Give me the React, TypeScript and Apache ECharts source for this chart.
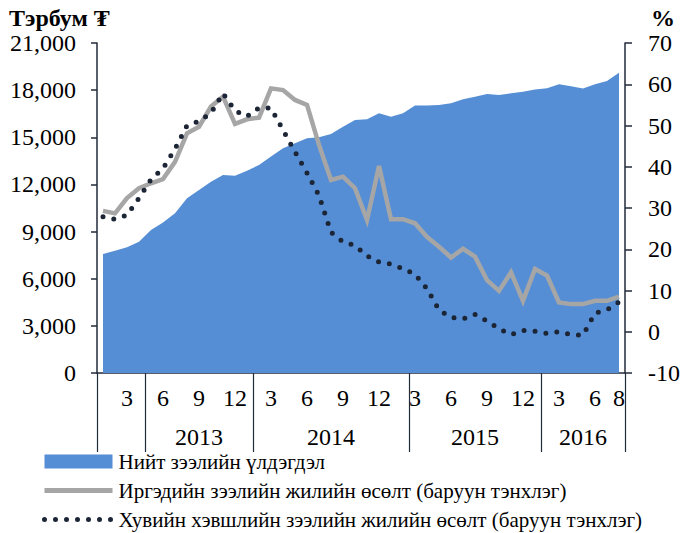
import React, { useEffect, useRef } from 'react';
import * as echarts from 'echarts';

// Months Jan 2013 – Aug 2016
const months = [
  1, 2, 3, 4, 5, 6, 7, 8, 9, 10, 11, 12,
  1, 2, 3, 4, 5, 6, 7, 8, 9, 10, 11, 12,
  1, 2, 3, 4, 5, 6, 7, 8, 9, 10, 11, 12,
  1, 2, 3, 4, 5, 6, 7, 8,
];
// Category boundaries where the reference draws its group separators
const separators = [0, 4, 13, 26, 37];
const yearLabels = ['2013', '2014', '2015', '2016'];
const yearSpans = [
  [4, 13],
  [13, 26],
  [26, 37],
  [37, 44],
];

// Нийт зээлийн үлдэгдэл (тэрбум ₮)
const totalLoans = [
  7570, 7780, 8000, 8360, 9100, 9570, 10160, 11120, 11650, 12170,
  12600, 12550, 12870, 13240, 13770, 14300, 14620, 14940, 15000, 15210,
  15670, 16100, 16150, 16530, 16310, 16530, 17030, 17030, 17050, 17160,
  17420, 17580, 17750, 17690, 17800, 17900, 18040, 18120, 18370, 18240,
  18100, 18380, 18580, 19100,
];
// Иргэдийн зээлийн жилийн өсөлт (%)
const householdGrowth = [
  29.3, 28.7, 32.4, 34.8, 36.0, 37.0, 41.2, 48.1, 49.7, 54.6,
  57.0, 50.4, 51.5, 51.9, 59.0, 58.6, 56.2, 55.0, 45.3, 36.8,
  37.6, 34.8, 27.1, 40.2, 27.3, 27.3, 26.3, 23.0, 20.6, 18.0,
  20.1, 18.2, 12.5, 9.9, 14.4, 7.5, 15.2, 13.6, 7.1, 6.7,
  6.7, 7.5, 7.5, 8.5,
];
// Хувийн хэвшлийн зээлийн жилийн өсөлт (%)
const privateGrowth = [
  27.9, 27.3, 28.3, 32.4, 36.9, 39.6, 44.3, 50.0, 51.0, 53.0,
  57.8, 53.6, 52.2, 54.3, 54.2, 48.9, 43.6, 38.5, 33.0, 24.1,
  21.8, 20.9, 18.4, 16.9, 16.4, 15.3, 13.9, 10.4, 5.3, 3.5,
  3.1, 4.2, 2.6, 0.7, -0.7, 0.3, 0.1, -0.4, 0.0, -0.7,
  -0.8, 4.5, 5.3, 7.2,
];

const seriesNames = [
  'Нийт зээлийн үлдэгдэл',
  'Иргэдийн зээлийн жилийн өсөлт (баруун тэнхлэг)',
  'Хувийн хэвшлийн зээлийн жилийн өсөлт (баруун тэнхлэг)',
];

const FONT = '"Liberation Serif", "Times New Roman", serif';
const AXIS_COLOR = '#222b3a';
const BLUE = '#558ed5';
const GRAY = '#a6a6a6';
const DOT = '#1c2536';

const categories = months.map((m, i) => `${i}-${m}`);

export default function App() {
  const ref = useRef<HTMLDivElement>(null);
  useEffect(() => {
    document.body.style.margin = '0';
    const chart = echarts.init(ref.current!, null, { renderer: 'svg' });
    const option: any = {
      animation: false,
      title: [
        {
          text: 'Тэрбум ₮',
          left: 9,
          top: 6,
          padding: 0,
          textStyle: { fontFamily: FONT, fontSize: 24, fontWeight: 'bold', color: '#000' },
        },
        {
          text: '%',
          left: 651,
          top: 6,
          padding: 0,
          textStyle: { fontFamily: FONT, fontSize: 24, fontWeight: 'bold', color: '#000' },
        },
      ],
      legend: {
        orient: 'vertical',
        left: 37,
        top: 446,
        height: 100,
        itemWidth: 68,
        itemHeight: 14,
        itemGap: 8,
        selectedMode: false,
        textStyle: { fontFamily: FONT, fontSize: 21, color: '#000', padding: [0, 0, 0, 1] },
        data: [
          { name: seriesNames[0], icon: 'rect' },
          { name: seriesNames[1], lineStyle: { width: 5 }, itemStyle: { opacity: 0 } },
          { name: seriesNames[2], lineStyle: { width: 5 }, itemStyle: { opacity: 0 } },
        ],
      },
      grid: { left: 97, right: 53, top: 43, bottom: 160 },
      xAxis: [
        {
          type: 'category',
          data: categories,
          boundaryGap: true,
          position: 'bottom',
          axisLine: { show: true, onZero: false, lineStyle: { color: AXIS_COLOR, width: 1.5 } },
          axisTick: {
            show: true,
            length: 79,
            interval: (idx: number) => separators.includes(idx),
            lineStyle: { color: AXIS_COLOR, width: 1.2 },
          },
          axisLabel: {
            interval: 0,
            margin: 13,
            fontFamily: FONT,
            fontSize: 24,
            color: '#000',
            formatter: (_v: string, idx: number) =>
              months[idx] % 3 === 0 || idx === months.length - 1 ? String(months[idx]) : '',
          },
          splitLine: { show: false },
        },
        {
          type: 'category',
          data: categories,
          boundaryGap: true,
          position: 'bottom',
          axisLine: { show: false, onZero: false },
          axisTick: { show: false },
          axisLabel: {
            interval: 0,
            margin: 52,
            fontFamily: FONT,
            fontSize: 24,
            color: '#000',
            formatter: (_v: string, idx: number) => {
              const k = yearSpans.findIndex(([a, b]) => (a + b) / 2 - 0.5 === idx);
              return k >= 0 ? yearLabels[k] : '';
            },
          },
          splitLine: { show: false },
        },
      ],
      yAxis: [
        {
          type: 'value',
          position: 'left',
          min: 0,
          max: 21000,
          interval: 3000,
          axisLine: { show: true, lineStyle: { color: AXIS_COLOR, width: 1.5 } },
          axisTick: { show: true, length: 6, lineStyle: { color: AXIS_COLOR, width: 1.5 } },
          axisLabel: {
            margin: 21,
            fontFamily: FONT,
            fontSize: 24,
            color: '#000',
            formatter: (v: number) => v.toLocaleString('en-US'),
          },
          splitLine: { show: false },
        },
        {
          type: 'value',
          position: 'right',
          min: -10,
          max: 70,
          interval: 10,
          axisLine: { show: true, lineStyle: { color: AXIS_COLOR, width: 1.5 } },
          axisTick: { show: true, length: 7, lineStyle: { color: AXIS_COLOR, width: 1.5 } },
          axisLabel: { margin: 23, fontFamily: FONT, fontSize: 24, color: '#000' },
          splitLine: { show: false },
        },
      ],
      series: [
        {
          name: seriesNames[0],
          type: 'line',
          xAxisIndex: 0,
          yAxisIndex: 0,
          data: totalLoans,
          symbol: 'none',
          itemStyle: { color: BLUE },
          lineStyle: { width: 0, color: BLUE },
          areaStyle: { color: BLUE, opacity: 1 },
          z: 1,
        },
        {
          name: seriesNames[1],
          type: 'line',
          xAxisIndex: 0,
          yAxisIndex: 1,
          data: householdGrowth,
          symbol: 'none',
          itemStyle: { color: GRAY },
          lineStyle: { width: 4.5, color: GRAY, join: 'miter' },
          z: 2,
        },
        {
          name: seriesNames[2],
          type: 'line',
          xAxisIndex: 0,
          yAxisIndex: 1,
          data: privateGrowth,
          symbol: 'none',
          itemStyle: { color: DOT },
          lineStyle: { width: 5, color: DOT, type: [0, 11], cap: 'round' },
          z: 3,
        },
      ],
    };
    chart.setOption(option);
    return () => chart.dispose();
  }, []);
  return <div ref={ref} style={{ width: 683, height: 533 }} />;
}
